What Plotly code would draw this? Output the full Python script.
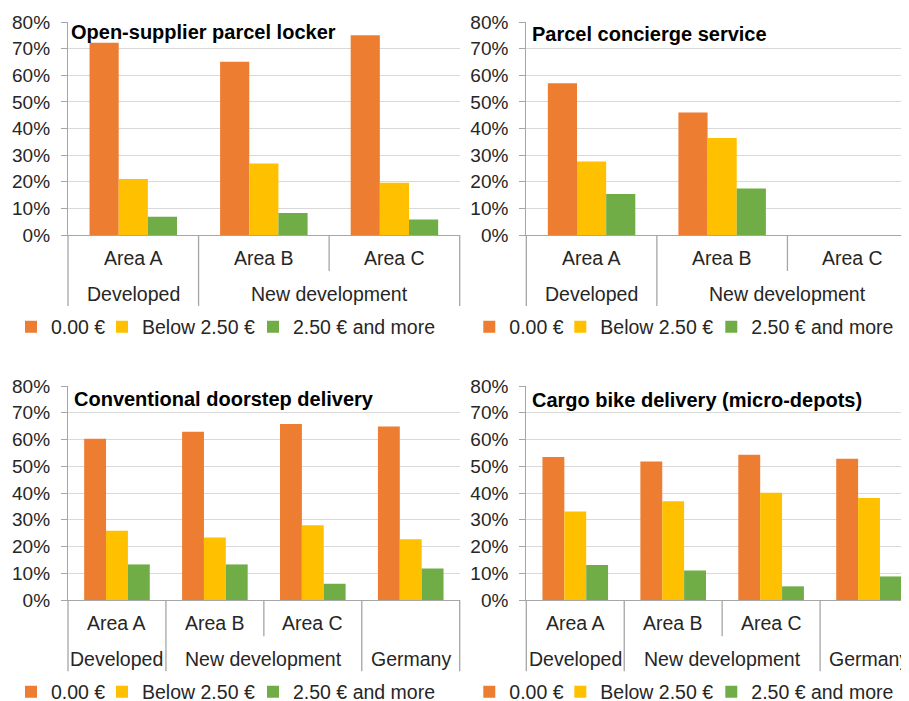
import plotly.graph_objects as go

# ---------------- data ----------------
series_names = ["0.00 €", "Below 2.50 €", "2.50 € and more"]
series_colors = ["#ED7D31", "#FFC000", "#70AD47"]

titles = [
    "Open-supplier parcel locker",
    "Parcel concierge service",
    "Conventional doorstep delivery",
    "Cargo bike delivery (micro-depots)",
]

cats_top = ["Area A", "Area B", "Area C"]
area_labels_top = ["Area A", "Area B", "Area C"]
groups_top = ["Developed", "New development", "New development"]

cats_bottom = ["Area A", "Area B", "Area C", "Germany"]
area_labels_bottom = ["Area A", "Area B", "Area C", ""]
groups_bottom = ["Developed", "New development", "New development", "Germany"]

locker_free = [72.2, 65.1, 75.0]
locker_low = [21.0, 26.9, 19.6]
locker_high = [6.9, 8.3, 5.8]

concierge_free = [57.0, 46.0, None]
concierge_low = [27.6, 36.4, None]
concierge_high = [15.4, 17.5, None]

doorstep_free = [60.3, 62.9, 65.8, 64.9]
doorstep_low = [25.9, 23.4, 27.9, 22.7]
doorstep_high = [13.3, 13.3, 6.1, 11.8]

cargo_free = [53.5, 51.8, 54.3, 52.8]
cargo_low = [33.1, 36.9, 40.1, 38.1]
cargo_high = [13.1, 11.0, 5.1, 8.8]

y_tick_vals = [0, 10, 20, 30, 40, 50, 60, 70, 80]
y_tick_text = ["0%", "10%", "20%", "30%", "40%", "50%", "60%", "70%", "80%"]

# ---------------- layout geometry ----------------
# page body has an 8px margin, so figure pixel = screen pixel - OFF
OFF = 8
W, H = 911, 701
FONT = "Liberation Sans, Arial, sans-serif"
TXT = "#262626"
LINE = "#A6A6A6"
GRID = "#D9D9D9"
PANEL_W = 391.7
LAB = 19.5

panels = [
    dict(cats=cats_top, areas=area_labels_top, groups=groups_top,
         vals=[locker_free, locker_low, locker_high], left=68, top=22, bottom=235,
         title_pos=(0.0035, 0.953)),
    dict(cats=cats_top, areas=area_labels_top, groups=groups_top,
         vals=[concierge_free, concierge_low, concierge_high], left=526.3, top=22, bottom=235,
         title_pos=(0.0105, 0.944)),
    dict(cats=cats_bottom, areas=area_labels_bottom, groups=groups_bottom,
         vals=[doorstep_free, doorstep_low, doorstep_high], left=68, top=386, bottom=600,
         title_pos=(0.0105, 0.939)),
    dict(cats=cats_bottom, areas=area_labels_bottom, groups=groups_bottom,
         vals=[cargo_free, cargo_low, cargo_high], left=526.3, top=386, bottom=600,
         title_pos=(0.0085, 0.935)),
]
legend_offsets = [-17.0, 74, 225]   # legend text start relative to panel left (screen px)
legend_rows = [327, 692]            # legend row centre (screen px)
LEG_TEXT_SHIFT = 40                 # text start minus legend box left in plotly

fig = go.Figure()
shapes = []
annotations = []
leg_idx = 0

for p_i, p in enumerate(panels):
    ax = "" if p_i == 0 else str(p_i + 1)
    xname, yname = "x" + ax, "y" + ax
    n = len(p["cats"])
    left_f = p["left"] - OFF
    right_f = left_f + PANEL_W
    range_end = n - 0.5

    for s_i in range(3):
        leg_idx += 1
        lname = "legend" if leg_idx == 1 else f"legend{leg_idx}"
        fig.add_trace(go.Bar(
            x=p["cats"], y=p["vals"][s_i], name=series_names[s_i],
            marker=dict(color=series_colors[s_i], line=dict(width=0)),
            xaxis=xname, yaxis=yname, legend=lname, showlegend=True,
        ))
        row_y = legend_rows[0] if p["top"] < 300 else legend_rows[1]
        text_x = p["left"] + legend_offsets[s_i] - OFF
        fig.update_layout(**{lname: dict(
            x=(text_x - LEG_TEXT_SHIFT) / W, xanchor="left",
            y=1 - (row_y - OFF) / H, yanchor="middle",
            orientation="h", bgcolor="rgba(0,0,0,0)",
            font=dict(family=FONT, size=LAB, color=TXT),
        )})

    xdom = [left_f / W, min(1.0, right_f / W)]
    ydom = [1 - (p["bottom"] - OFF) / H, 1 - (p["top"] - OFF) / H]
    xl = "xaxis" if p_i == 0 else f"xaxis{p_i + 1}"
    yl = "yaxis" if p_i == 0 else f"yaxis{p_i + 1}"
    fig.update_layout(**{
        xl: dict(domain=xdom, anchor=yname, type="category", categoryorder="array",
                 categoryarray=p["cats"], range=[-0.5, range_end], showticklabels=False,
                 ticks="", showgrid=False, showline=True, linecolor=LINE, linewidth=1.3,
                 zeroline=False, fixedrange=True),
        yl: dict(domain=ydom, anchor=xname, range=[0, 80], tickvals=y_tick_vals,
                 ticktext=y_tick_text, showgrid=True, gridcolor=GRID, gridwidth=1,
                 showline=True, linecolor=LINE, linewidth=1.3, ticks="outside",
                 ticklen=6, tickcolor=LINE, zeroline=False, ticklabelstandoff=7,
                 tickfont=dict(family=FONT, size=19, color=TXT), fixedrange=True),
    })

    # chart title inside plot
    annotations.append(dict(
        text="<b>" + titles[p_i] + "</b>", xref=xname + " domain", yref=yname + " domain",
        x=p["title_pos"][0], y=p["title_pos"][1], xanchor="left", yanchor="middle",
        showarrow=False, font=dict(family=FONT, size=20, color="#000000"),
    ))

    # category labels (inner row)
    for i, lab in enumerate(p["areas"]):
        if lab:
            annotations.append(dict(
                text=lab, xref=xname, yref=yname + " domain", x=i, y=-0.108,
                xanchor="center", yanchor="middle", showarrow=False,
                font=dict(family=FONT, size=LAB, color=TXT),
            ))
    # group labels (outer row)
    groups = p["groups"]
    start = 0
    for i in range(1, n + 1):
        if i == n or groups[i] != groups[start]:
            annotations.append(dict(
                text=groups[start], xref=xname, yref=yname + " domain",
                x=(start + i - 1) / 2, y=-0.277, xanchor="center", yanchor="middle",
                showarrow=False, font=dict(family=FONT, size=LAB, color=TXT),
            ))
            start = i

    # dividers
    for b in range(0, n + 1):
        pos = b - 0.5
        full = b == 0 or b == n or groups[b] != groups[b - 1]
        y1 = -0.333 if full else -0.169
        if b == 0:
            xr, xv = xname + " domain", 0
        elif b == n:
            xr, xv = xname + " domain", 1
        else:
            xr, xv = xname, pos
        shapes.append(dict(type="line", xref=xr, yref=yname + " domain",
                           x0=xv, x1=xv, y0=0, y1=y1,
                           line=dict(color=LINE, width=1.3)))

fig.update_layout(
    width=W, height=H,
    margin=dict(l=0, r=0, t=0, b=0, autoexpand=False),
    paper_bgcolor="white", plot_bgcolor="white",
    barmode="group", bargap=0.33, bargroupgap=0,
    font=dict(family=FONT, size=LAB, color=TXT),
    shapes=shapes, annotations=annotations,
)

fig.write_html("out.html")
